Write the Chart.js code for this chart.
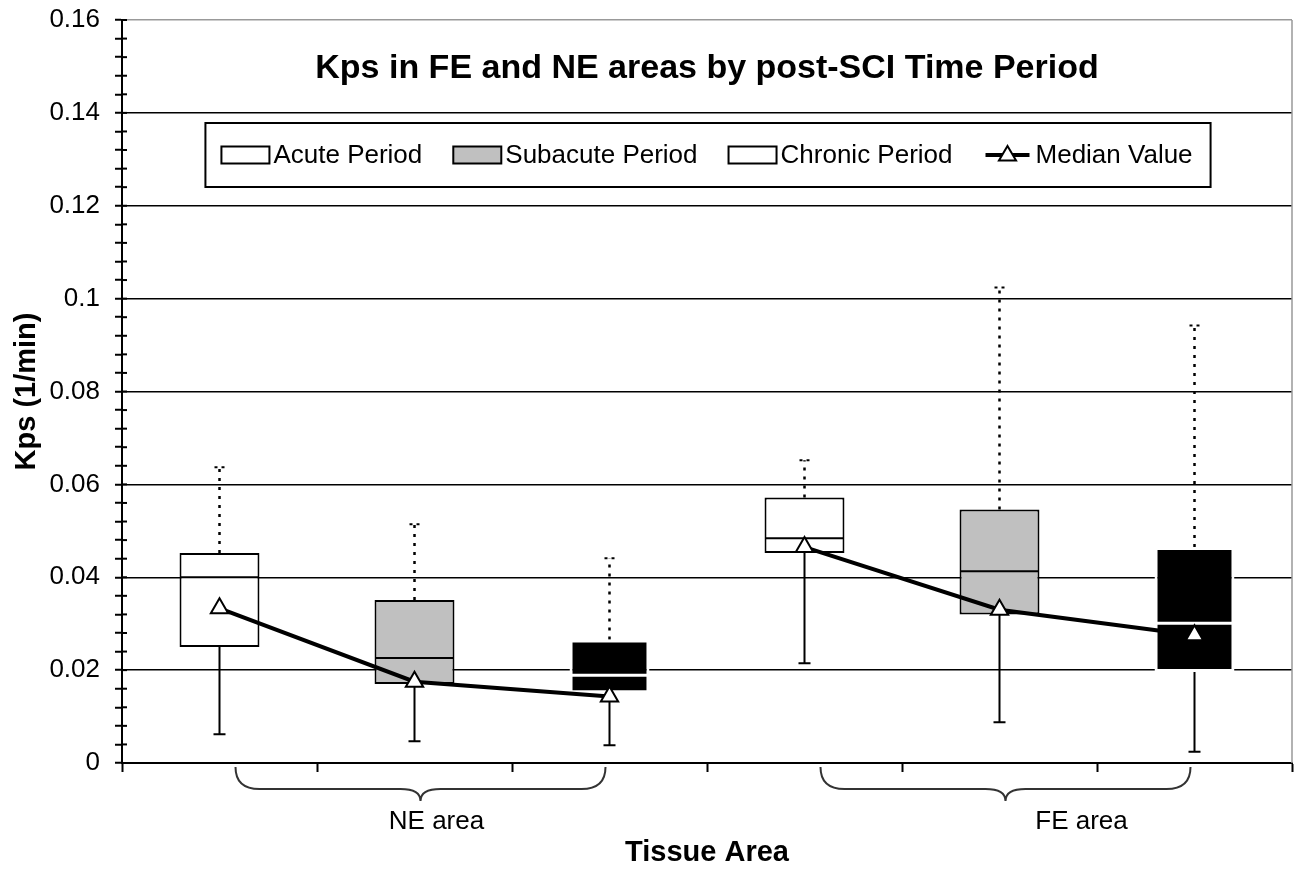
<!DOCTYPE html>
<html>
<head>
<meta charset="utf-8">
<title>Kps in FE and NE areas by post-SCI Time Period</title>
<script src="https://cdn.jsdelivr.net/npm/chart.js@4.4.1/dist/chart.umd.min.js"></script>
<style>
  html, body { margin: 0; padding: 0; background: #fff; }
  .chart-parent { position: relative; width: 1304px; height: 869px; }
</style>
</head>
<body>
<div class="chart-parent"><canvas id="myChart"></canvas></div>
<script>
// one box per (area, period)
const categories = ['NE acute', 'NE subacute', 'NE chronic', 'FE acute', 'FE subacute', 'FE chronic'];
const periods = ['Acute Period', 'Subacute Period', 'Chronic Period'];
const periodOf = [0, 1, 2, 0, 1, 2];
const areaLabels = ['NE area', 'FE area'];
const areaOf = [0, 0, 0, 1, 1, 1];

const whiskerLow  = [0.0062, 0.0047, 0.0038, 0.0215, 0.0088, 0.0024];
const q1          = [0.0250, 0.0170, 0.0150, 0.0452, 0.0320, 0.0196];
const mid         = [0.0400, 0.0226, 0.0189, 0.0484, 0.0413, 0.0301];
const q3          = [0.0452, 0.0351, 0.0266, 0.0572, 0.0546, 0.0465];
const whiskerHigh = [0.0637, 0.0514, 0.0441, 0.0652, 0.1024, 0.0942];
const medianValue = [0.0333, 0.0175, 0.0143, 0.0465, 0.0330, 0.0275];

const FONT = "'Liberation Sans', Arial, sans-serif";
const boxFill = ['#ffffff', '#c0c0c0', '#000000'];
const boxEdge = ['#000000', '#000000', '#ffffff'];
const legendFill = ['#ffffff', '#c0c0c0', '#ffffff'];

const isMajor = (v) => Math.round(v * 250) % 5 === 0;

const periodDatasets = periods.map((name, p) => ({
  type: 'bar',
  label: name,
  data: categories.map((c, i) => (periodOf[i] === p ? [q1[i], q3[i]] : null)),
  backgroundColor: boxFill[p],
  borderColor: boxEdge[p],
  borderWidth: p === 2 ? 3 : 2,
  borderSkipped: false,
  grouped: false,
  barPercentage: 0.41,
  categoryPercentage: 1,
  order: 3 - p
}));

const medianDataset = {
  type: 'line',
  label: 'Median Value',
  data: medianValue,
  borderColor: '#000',
  borderWidth: 4,
  tension: 0,
  pointStyle: 'triangle',
  pointRadius: 10,
  pointBackgroundColor: '#fff',
  pointBorderColor: '#000',
  pointBorderWidth: 2,
  segment: {
    // no line between the two tissue areas
    borderColor: (ctx) => (areaOf[ctx.p0DataIndex] !== areaOf[ctx.p1DataIndex] ? 'rgba(0,0,0,0)' : undefined)
  },
  order: 0
};

// the plot area is fixed, so drop the extra room scales ask for
const noScalePadding = (s) => {
  s.paddingTop = 0;
  s.paddingBottom = 0;
  s.paddingLeft = 0;
  s.paddingRight = 0;
};

const boxPlotExtras = {
  id: 'boxPlotExtras',
  beforeDatasetsDraw(chart) {
    const { ctx, scales: { x, y } } = chart;
    ctx.save();
    ctx.strokeStyle = '#000';
    categories.forEach((c, i) => {
      const cx = x.getPixelForValue(i);
      const yLow = y.getPixelForValue(whiskerLow[i]);
      const yHigh = y.getPixelForValue(whiskerHigh[i]);
      // lower whisker, solid with cap
      ctx.setLineDash([]);
      ctx.lineWidth = 2;
      ctx.beginPath();
      ctx.moveTo(cx, y.getPixelForValue(q1[i]));
      ctx.lineTo(cx, yLow);
      ctx.moveTo(cx - 6, yLow);
      ctx.lineTo(cx + 6, yLow);
      ctx.stroke();
      // upper whisker, dotted
      ctx.setLineDash([3, 6]);
      ctx.lineWidth = 2.5;
      ctx.beginPath();
      ctx.moveTo(cx, y.getPixelForValue(q3[i]));
      ctx.lineTo(cx, yHigh);
      ctx.stroke();
      ctx.setLineDash([3, 4]);
      ctx.lineWidth = 2;
      ctx.beginPath();
      ctx.moveTo(cx - 5, yHigh);
      ctx.lineTo(cx + 5, yHigh);
      ctx.stroke();
    });
    ctx.restore();
  },
  afterDatasetDraw(chart, args) {
    const ds = chart.data.datasets[args.index];
    if (ds.type !== 'bar') return;
    const p = periods.indexOf(ds.label);
    const { ctx, scales: { y } } = chart;
    ctx.save();
    ctx.strokeStyle = boxEdge[p];
    ctx.lineWidth = p === 2 ? 3 : 2;
    args.meta.data.forEach((bar, i) => {
      if (periodOf[i] !== p) return;
      const { x: bx, width } = bar.getProps(['x', 'width'], true);
      const my = y.getPixelForValue(mid[i]);
      ctx.beginPath();
      ctx.moveTo(bx - width / 2 + 1, my);
      ctx.lineTo(bx + width / 2 - 1, my);
      ctx.stroke();
    });
    ctx.restore();
  },
  afterDraw(chart) {
    const { ctx, chartArea: area, scales: { x, y } } = chart;
    const cx = (area.left + area.right) / 2;
    ctx.save();

    // right border of plot area
    ctx.strokeStyle = '#999';
    ctx.lineWidth = 1.5;
    ctx.beginPath();
    ctx.moveTo(area.right, area.top);
    ctx.lineTo(area.right, area.bottom);
    ctx.stroke();

    // inner half of the y tick marks
    ctx.strokeStyle = '#000';
    ctx.lineWidth = 2;
    y.ticks.forEach((t) => {
      const ty = y.getPixelForValue(t.value);
      ctx.beginPath();
      ctx.moveTo(area.left, ty);
      ctx.lineTo(area.left + 5, ty);
      ctx.stroke();
    });

    // chart title
    ctx.fillStyle = '#000';
    ctx.textAlign = 'center';
    ctx.textBaseline = 'middle';
    ctx.font = 'bold 34px ' + FONT;
    ctx.fillText('Kps in FE and NE areas by post-SCI Time Period', cx, area.top + 49);

    // legend
    const items = chart.data.datasets.map((d) => d.label);
    ctx.font = '26px ' + FONT;
    const swW = 48, swH = 17, gapText = 4, gapItem = 31;
    const widths = items.map((t) => swW + gapText + ctx.measureText(t).width);
    const total = widths.reduce((a, b) => a + b, 0) + gapItem * (items.length - 1);
    const boxTop = area.top + 103, boxH = 64;
    const boxLeft = cx - total / 2 - 16, boxW = total + 34;
    ctx.fillStyle = '#fff';
    ctx.fillRect(boxLeft, boxTop, boxW, boxH);
    ctx.strokeStyle = '#000';
    ctx.lineWidth = 2;
    ctx.strokeRect(boxLeft, boxTop, boxW, boxH);
    let lx = cx - total / 2;
    const ly = boxTop + boxH / 2;
    items.forEach((t, k) => {
      if (k < periods.length) {
        ctx.fillStyle = legendFill[k];
        ctx.fillRect(lx, ly - swH / 2, swW, swH);
        ctx.lineWidth = 2;
        ctx.strokeStyle = '#000';
        ctx.strokeRect(lx, ly - swH / 2, swW, swH);
      } else {
        ctx.lineWidth = 4;
        ctx.strokeStyle = '#000';
        ctx.beginPath();
        ctx.moveTo(lx + 2, ly);
        ctx.lineTo(lx + swW - 2, ly);
        ctx.stroke();
        const r = 9, tx = lx + swW / 2;
        ctx.beginPath();
        ctx.moveTo(tx, ly - r);
        ctx.lineTo(tx + r * 0.95, ly + r * 0.6);
        ctx.lineTo(tx - r * 0.95, ly + r * 0.6);
        ctx.closePath();
        ctx.fillStyle = '#fff';
        ctx.fill();
        ctx.lineWidth = 2;
        ctx.stroke();
      }
      ctx.fillStyle = '#000';
      ctx.textAlign = 'left';
      ctx.fillText(t, lx + swW + gapText, ly + 1);
      lx += widths[k] + gapItem;
    });

    // braces and area labels under the x axis
    const labelShift = [22, 82];
    areaLabels.forEach((name, a) => {
      const idx = categories.map((c, i) => i).filter((i) => areaOf[i] === a);
      const x0 = x.getPixelForValue(idx[0]) + 16;
      const x1 = x.getPixelForValue(idx[idx.length - 1]) - 4;
      const xm = (x0 + x1) / 2;
      const yt = area.bottom + 4, yb = area.bottom + 26, yp = area.bottom + 38;
      ctx.strokeStyle = '#333';
      ctx.lineWidth = 2;
      ctx.beginPath();
      ctx.moveTo(x0, yt);
      ctx.quadraticCurveTo(x0, yb, x0 + 24, yb);
      ctx.lineTo(xm - 20, yb);
      ctx.quadraticCurveTo(xm, yb, xm, yp);
      ctx.quadraticCurveTo(xm, yb, xm + 20, yb);
      ctx.lineTo(x1 - 24, yb);
      ctx.quadraticCurveTo(x1, yb, x1, yt);
      ctx.stroke();
      ctx.fillStyle = '#000';
      ctx.textAlign = 'center';
      ctx.font = '26px ' + FONT;
      ctx.fillText(name, x.getPixelForValue(idx[1]) + labelShift[a], area.bottom + 59);
    });
    ctx.restore();
  }
};

const ctx = document.getElementById('myChart');
new Chart(ctx, {
  data: {
    labels: categories,
    datasets: [...periodDatasets, medianDataset]
  },
  options: {
    responsive: true,
    maintainAspectRatio: false,
    animation: false,
    layout: { padding: { top: 20, right: -6, left: 0, bottom: 0 } },
    plugins: {
      legend: { display: false },
      tooltip: { enabled: false }
    },
    scales: {
      x: {
        type: 'category',
        offset: true,
        afterFit: (s) => { s.height = 106; noScalePadding(s); },
        border: { color: '#000', width: 2 },
        grid: {
          offset: true,
          color: 'rgba(0,0,0,0)',
          drawTicks: true,
          tickLength: 9,
          tickColor: '#000',
          tickWidth: 2
        },
        ticks: { callback: () => '' },
        title: {
          display: true,
          text: 'Tissue Area',
          color: '#000',
          font: { family: FONT, size: 29, weight: 'bold', lineHeight: 1.1 },
          padding: { top: 0, bottom: 0 }
        }
      },
      y: {
        min: 0,
        max: 0.16,
        afterFit: (s) => { s.width = 122; noScalePadding(s); },
        border: { color: '#000', width: 2 },
        grid: {
          color: (c) => {
            const v = c.tick.value;
            if (!isMajor(v)) return 'rgba(0,0,0,0)';
            return v > 0.159 ? '#999' : '#000';
          },
          lineWidth: 1.5,
          drawTicks: true,
          tickLength: 7,
          tickColor: '#000',
          tickWidth: 2
        },
        ticks: {
          stepSize: 0.004,
          maxTicksLimit: 60,
          autoSkip: false,
          padding: 15,
          color: '#000',
          font: { family: FONT, size: 26 },
          callback: (v) => (isMajor(v) ? String(parseFloat(Number(v).toFixed(2))) : '')
        },
        title: {
          display: true,
          text: 'Kps (1/min)',
          color: '#000',
          font: { family: FONT, size: 29, weight: 'bold', lineHeight: 1.1 },
          padding: { top: 11, bottom: 0 }
        }
      }
    }
  },
  plugins: [boxPlotExtras]
});
</script>
</body>
</html>
